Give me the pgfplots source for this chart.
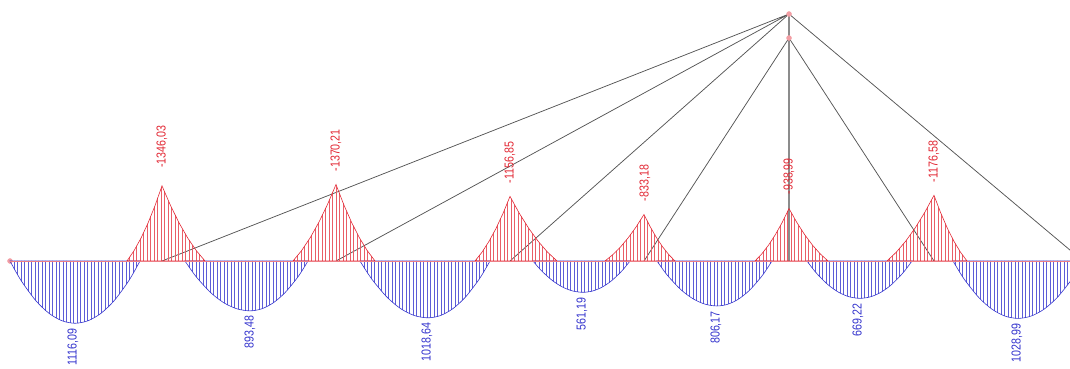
\documentclass[border=0pt]{standalone}
\usepackage{pgfplots}
\pgfplotsset{compat=1.18}
\usepackage{fontspec}
\setmainfont{Liberation Sans}[FakeStretch=0.82]
\usetikzlibrary{patterns.meta}

\definecolor{negred}{RGB}{226,40,52}
\definecolor{posblue}{RGB}{52,52,205}
\definecolor{cable}{RGB}{85,85,85}
\definecolor{pylon}{RGB}{140,140,140}

\pgfplotsset{
  frame/.style={scale only axis, width=1070pt, height=368pt,
    xmin=0, xmax=1070, hide axis, clip=true, no markers,
    at={(0,0)}, anchor=south west},
  hog/.style={draw=negred, line width=0.6pt,
    pattern={Lines[angle=90,distance=3.5pt,line width=0.6pt]}, pattern color=negred!75},
  sag/.style={draw=posblue, line width=0.6pt, smooth,
    pattern={Lines[angle=90,distance=3.5pt,line width=0.6pt]}, pattern color=posblue!80},
}
\tikzset{
  vneg/.style={rotate=90, anchor=west, inner sep=0pt, text=negred,
    font=\fontsize{13pt}{14pt}\selectfont},
  vpos/.style={rotate=90, anchor=east, inner sep=0pt, text=posblue,
    font=\fontsize{13pt}{14pt}\selectfont},
}

\begin{document}
\begin{tikzpicture}
\useasboundingbox (0,0) rectangle (1070pt,368pt);
\clip (0,0) rectangle (1070pt,368pt);

% ---------- structure: deck level y=107, pylon at x=789 ----------
\begin{axis}[frame, ymin=0, ymax=368]
  \addplot[pylon, line width=1.3pt] coordinates {(789,107) (789,354)};
  \addplot[cable, line width=0.75pt] coordinates {(162,107) (789,354) (336,107)};
  \addplot[cable, line width=0.75pt] coordinates {(510,107) (789,354) (1083,107)};
  \addplot[cable, line width=0.75pt] coordinates {(644,107) (789,330) (934,107)};
  \addplot[only marks, mark=+, mark size=2.5pt, negred!45, line width=0.4pt]
    coordinates {(789,354) (789,330) (10,107)};
\end{axis}

% ---------- bending moment envelope (kNm), sagging drawn downwards ----------
\begin{axis}[frame, ymin=-4677, ymax=1918, y dir=reverse]
  % sagging (maximum) envelope in the spans
  \addplot[sag] coordinates {(10,0) (16.5,212.06) (23,401.79) (36,714.30) (49,937.52) (62,1071.45) (75,1116.09)
    (88,1071.45) (101,937.52) (114,714.30) (127,401.79) (133.5,212.06) (140,0)} \closedcycle;
  \addplot[sag] coordinates {(185,0) (191.5,169.76) (198,321.65) (211,571.83) (224,750.52) (237,857.74) (250,893.48)
    (261.6,857.74) (273.2,750.52) (284.8,571.83) (296.4,321.65) (302.2,169.76) (308,0)} \closedcycle;
  \addplot[sag] coordinates {(360,0) (366.8,193.54) (373.6,366.71) (387.2,651.93) (400.8,855.66) (414.4,977.89) (428,1018.64)
    (440.4,977.89) (452.8,855.66) (465.2,651.93) (477.6,366.71) (483.8,193.54) (490,0)} \closedcycle;
  \addplot[sag] coordinates {(533,0) (538,106.63) (543,202.03) (553,359.16) (563,471.40) (573,538.74) (583,561.19)
    (592.4,538.74) (601.8,471.40) (611.2,359.16) (620.6,202.03) (625.3,106.63) (630,0)} \closedcycle;
  \addplot[sag] coordinates {(657,0) (663,153.17) (669,290.22) (681,515.95) (693,677.18) (705,773.92) (717,806.17)
    (728,773.92) (739,677.18) (750,515.95) (761,290.22) (766.5,153.17) (772,0)} \closedcycle;
  \addplot[sag] coordinates {(807,0) (812.3,127.15) (817.6,240.92) (828.2,428.30) (838.8,562.14) (849.4,642.45) (860,669.22)
    (870.4,642.45) (880.8,562.14) (891.2,428.30) (901.6,240.92) (906.8,127.15) (912,0)} \closedcycle;
  \addplot[sag] coordinates {(953,0) (959.5,195.51) (966,370.44) (979,658.55) (992,864.35) (1005,987.83) (1018,1028.99)
    (1031,987.83) (1044,864.35) (1057,658.55) (1070,370.44) (1076.5,195.51) (1083,0)} \closedcycle;

  % hogging (minimum) envelope over the supports
  \addplot[hog] coordinates {(127,0) (134,-183.06) (141,-409.19) (148,-678.40) (155,-990.69) (162,-1346.03)
    (170.6,-990.69) (179.2,-678.40) (187.8,-409.19) (196.4,-183.06) (205,0)} \closedcycle;
  \addplot[hog] coordinates {(293,0) (301.6,-186.35) (310.2,-416.54) (318.8,-690.59) (327.4,-1008.47) (336,-1370.21)
    (343.8,-1008.47) (351.6,-690.59) (359.4,-416.54) (367.2,-186.35) (375,0)} \closedcycle;
  \addplot[hog] coordinates {(475,0) (482,-157.33) (489,-351.68) (496,-583.05) (503,-851.44) (510,-1156.85)
    (519.4,-851.44) (528.8,-583.05) (538.2,-351.68) (547.6,-157.33) (557,0)} \closedcycle;
  \addplot[hog] coordinates {(605,0) (612.8,-113.31) (620.6,-253.29) (628.4,-419.92) (636.2,-613.22) (644,-833.18)
    (650.2,-613.22) (656.4,-419.92) (662.6,-253.29) (668.8,-113.31) (675,0)} \closedcycle;
  \addplot[hog] coordinates {(755,0) (761.8,-127.70) (768.6,-285.45) (775.4,-473.25) (782.2,-691.10) (789,-938.99)
    (796.8,-691.10) (804.6,-473.25) (812.4,-285.45) (820.2,-127.70) (828,0)} \closedcycle;
  \addplot[hog] coordinates {(887,0) (896.4,-160.01) (905.8,-357.68) (915.2,-593.00) (924.6,-865.96) (934,-1176.58)
    (940.6,-865.96) (947.2,-593.00) (953.8,-357.68) (960.4,-160.01) (967,0)} \closedcycle;

  % zero line of the minimum envelope along the deck
  \addplot[negred!60, line width=0.6pt] coordinates {(10,0) (1070,0)};

  % value labels
  \node[vneg] at (axis cs:162,-1669) {-1346,03};
  \node[vneg] at (axis cs:336,-1603) {-1370,21};
  \node[vneg] at (axis cs:510,-1390) {-1156,85};
  \node[vneg] at (axis cs:645,-1070) {-833,18};
  \node[vneg] at (axis cs:789,-1190) {-938,99};
  \node[vneg] at (axis cs:934,-1410) {-1176,58};

  \node[vpos] at (axis cs:73,1206) {1116,09};
  \node[vpos] at (axis cs:250,983) {893,48};
  \node[vpos] at (axis cs:427,1108) {1018,64};
  \node[vpos] at (axis cs:582,651) {561,19};
  \node[vpos] at (axis cs:716,896) {806,17};
  \node[vpos] at (axis cs:858,759) {669,22};
  \node[vpos] at (axis cs:1017,1119) {1028,99};
\end{axis}
\end{tikzpicture}
\end{document}
